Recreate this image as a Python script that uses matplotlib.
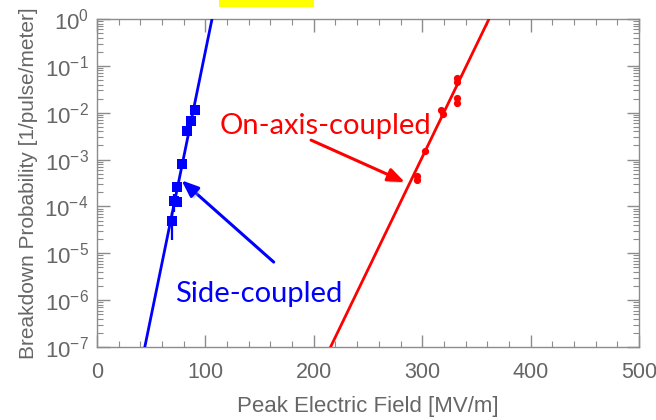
import numpy as np
import matplotlib
matplotlib.use("Agg")
import matplotlib.pyplot as plt
import matplotlib.patheffects as pe
from matplotlib.patches import Rectangle
from matplotlib.ticker import LogLocator, MultipleLocator, NullFormatter

# Side-coupled structure: breakdown probability vs peak field
sc_field = [68.9, 70.8, 73.6, 74.0, 78.1, 82.7, 86.4, 90.4]
sc_bdp = [4.8e-5, 1.3e-4, 1.25e-4, 2.6e-4, 8.2e-4, 4.0e-3, 6.6e-3, 1.15e-2]
sc_err_lo = [2.9e-5, 5.5e-5, 0.0, 0.0, 0.0, 0.0, 0.0, 0.0]
sc_err_hi = [2.8e-5, 5.0e-5, 0.0, 0.0, 0.0, 0.0, 0.0, 0.0]

# On-axis-coupled structure
oa_field = [294.9, 295.4, 302.6, 317.0, 319.5, 331.8, 331.8, 331.8, 331.8]
oa_bdp = [4.4e-4, 3.7e-4, 1.56e-3, 1.15e-2, 9.3e-3, 5.6e-2, 4.5e-2, 2.1e-2, 1.6e-2]
oa_err_lo = [0.0, 0.6e-4, 0.0, 0.0, 0.0, 0.0, 0.0, 0.0, 0.3e-2]
oa_err_hi = [0.0, 0.6e-4, 0.0, 0.0, 0.0, 0.0, 0.0, 0.0, 0.3e-2]

# Exponential fits: log10(P) = slope * (E - E_unity)
sc_slope, sc_unity = 0.1129, 106.1
oa_slope, oa_unity = 0.0479, 361.6

x_ticks = [0, 100, 200, 300, 400, 500]
y_exponents = [-7, -6, -5, -4, -3, -2, -1, 0]

BLUE = "#0000FF"
RED = "#FF0000"
GRAY = "#666666"
SPINE = "#8c8c8c"

W, H = 656, 420
fig = plt.figure(figsize=(W / 100, H / 100), dpi=100)
ax = fig.add_axes([97 / W, 1 - 347 / H, (639 - 97) / W, (347 - 19) / H])

ax.set_yscale("log")
ax.set_xlim(0, 500)
ax.set_ylim(1e-7, 1e0)

# fit lines
for slope, unity, col in [(sc_slope, sc_unity, BLUE), (oa_slope, oa_unity, RED)]:
    e = np.linspace(unity - 8 / slope, unity + 1 / slope, 200)
    ax.plot(e, 10 ** (slope * (e - unity)), color=col, lw=2.0, zorder=3)

ax.errorbar(sc_field, sc_bdp, yerr=[sc_err_lo, sc_err_hi], fmt="s", color=BLUE,
            ms=7.5, mew=0, elinewidth=1.6, capsize=3.5, capthick=1.6, zorder=4)
ax.errorbar(oa_field, oa_bdp, yerr=[oa_err_lo, oa_err_hi], fmt="o", color=RED,
            ms=5.2, mew=0, elinewidth=1.6, capsize=2.5, capthick=1.6, zorder=4)

# axes styling
ax.set_xticks(x_ticks)
ax.xaxis.set_minor_locator(MultipleLocator(20))
ax.set_yticks([10.0 ** k for k in y_exponents])
ax.set_yticklabels([r"$\mathregular{10^{%d}}$" % k for k in y_exponents])
ax.yaxis.set_minor_locator(LogLocator(base=10, subs=np.arange(2, 10), numticks=20))
ax.yaxis.set_minor_formatter(NullFormatter())
for s in ax.spines.values():
    s.set_color(SPINE)
    s.set_linewidth(1.0)
ax.tick_params(which="both", direction="in", top=True, right=True, colors=SPINE,
               labelcolor=GRAY)
ax.tick_params(which="major", length=9, width=1.0)
ax.tick_params(which="minor", length=4.5, width=0.8)
ax.tick_params(axis="x", pad=11, labelsize=15.5)
ax.tick_params(axis="y", pad=6, labelsize=16)
for lab in ax.get_xticklabels() + ax.get_yticklabels():
    lab.set_family("Liberation Sans")

ax.set_xlabel("Peak Electric Field [MV/m]", family="Liberation Sans", fontsize=16,
              color=GRAY, labelpad=9)
ax.set_ylabel("Breakdown Probability [1/pulse/meter]", family="Liberation Sans",
              fontsize=15, color=GRAY, labelpad=5)

# annotations
shadow = [pe.SimplePatchShadow(offset=(2, -2), shadow_rgbFace="#999999", alpha=0.35),
          pe.Normal()]
ax.annotate("", xy=(78.0, 3.6e-4), xytext=(163.0, 6.5e-6),
            arrowprops=dict(arrowstyle="-|>,head_length=1.0,head_width=0.4",
                            color=BLUE, lw=2.2, shrinkA=0, shrinkB=0,
                            path_effects=shadow))
ax.annotate("", xy=(284.0, 3.3e-4), xytext=(197.5, 2.6e-3),
            arrowprops=dict(arrowstyle="-|>,head_length=1.0,head_width=0.4",
                            color=RED, lw=2.2, shrinkA=0, shrinkB=0,
                            path_effects=shadow))
ax.text(0.4225, 0.649, "On-axis-coupled", transform=ax.transAxes, family="Lato",
        fontsize=21, color=RED, ha="center", va="baseline")
ax.text(0.298, 0.138, "Side-coupled", transform=ax.transAxes, family="Lato",
        fontsize=21, color=BLUE, ha="center", va="baseline")

# highlighted strip at the top edge
fig.add_artist(Rectangle((219 / W, 1 - 7 / H), 95 / W, 7 / H, transform=fig.transFigure,
                         facecolor="#FFFF00", edgecolor="none"))

fig.savefig("out.png", dpi=100)
